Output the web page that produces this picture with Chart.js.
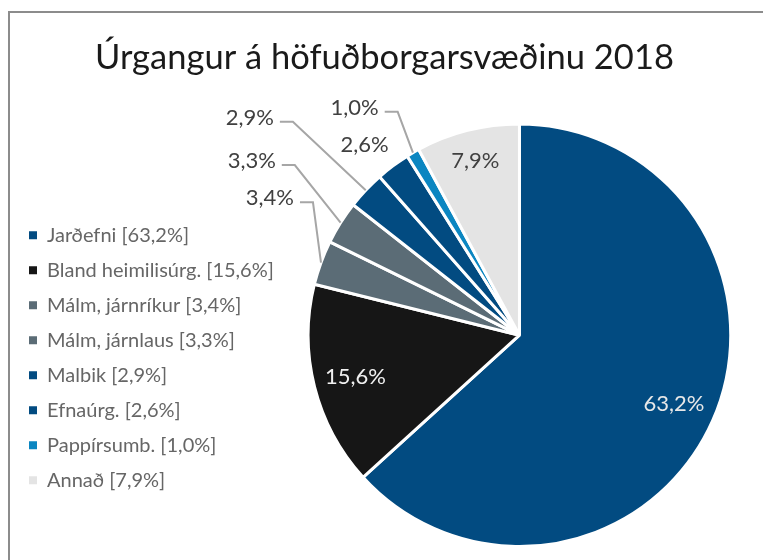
<!DOCTYPE html>
<html>
<head>
<meta charset="utf-8">
<script src="https://cdn.jsdelivr.net/npm/chart.js@4.4.1/dist/chart.umd.min.js"></script>
<style>
    body { margin: 0; background: #fff; overflow: hidden; }
    #frame {
        position: absolute; left: 8px; top: 11px; width: 800px; height: 600px;
        border-left: 2px solid #8c8c8c; border-top: 2px solid #8c8c8c;
    }
    #wrap { position: absolute; left: 9px; top: 13px; width: 766px; height: 547px; }
</style>
</head>
<body>
<div id="frame"></div>
<div id="wrap"><canvas id="myChart" width="766" height="547"></canvas></div>
<script>
// data
const categories = ['Jarðefni', 'Bland heimilisúrg.', 'Málm, járnríkur', 'Málm, járnlaus', 'Malbik', 'Efnaúrg.', 'Pappírsumb.', 'Annað']
const shares = [63.2, 15.6, 3.4, 3.3, 2.9, 2.6, 1.0, 7.9]
const sliceColors = ['#024b81', '#161616', '#5b6c76', '#5b6c76', '#024b81', '#024b81', '#0b86c1', '#e4e4e4']
const titleText = 'Úrgangur á höfuðborgarsvæðinu 2018'

const fmt = v => v.toFixed(1).replace('.', ',') + '%'
const FONT = 'Lato'

// label placement, in units of the pie radius
// r: radial factor along the slice middle; pos / leader: text centre relative to pie centre
const labelPlace = [
    { r: 0.8, color: '#e8e8e8' },
    { r: 0.8, color: '#f0f0f0' },
    { leader: [-1.181, -0.648] },
    { leader: [-1.267, -0.824] },
    { leader: [-1.276, -1.029] },
    { pos: [-0.733, -0.9], color: '#404040' },
    { leader: [-0.78, -1.076] },
    { r: 0.85, color: '#404040' },
]

const pieLabels = {
    id: 'pieLabels',
    afterDatasetsDraw(chart) {
        const { ctx } = chart
        const meta = chart.getDatasetMeta(0)
        ctx.save()
        ctx.font = `22px ${FONT}`
        ctx.textAlign = 'center'
        ctx.textBaseline = 'middle'
        meta.data.forEach((arc, i) => {
            const p = labelPlace[i]
            const { x, y, startAngle, endAngle, outerRadius } = arc.getProps(['x', 'y', 'startAngle', 'endAngle', 'outerRadius'], true)
            const mid = (startAngle + endAngle) / 2
            const text = fmt(shares[i])
            if (p.leader) {
                const tx = x + p.leader[0] * outerRadius
                const ty = y + p.leader[1] * outerRadius
                const w = ctx.measureText(text).width
                const ax = x + Math.cos(mid) * outerRadius
                const ay = y + Math.sin(mid) * outerRadius
                const lx = tx + w / 2 + 6
                const ex = lx + 13
                const ly = ty + 4
                ctx.strokeStyle = '#a6a6a6'
                ctx.lineWidth = 2
                ctx.beginPath()
                ctx.moveTo(lx, ly)
                ctx.lineTo(ex, ly)
                ctx.lineTo(ax, ay)
                ctx.stroke()
                ctx.fillStyle = '#404040'
                ctx.fillText(text, tx, ty)
            } else if (p.pos) {
                ctx.fillStyle = p.color
                ctx.fillText(text, x + p.pos[0] * outerRadius, y + p.pos[1] * outerRadius)
            } else {
                ctx.fillStyle = p.color
                ctx.fillText(text, x + Math.cos(mid) * outerRadius * p.r, y + Math.sin(mid) * outerRadius * p.r)
            }
        })
        ctx.restore()
    }
}

const ctx = document.getElementById('myChart')
const myPieChart = new Chart(ctx, {
    type: 'pie',
    data: {
        labels: categories,
        datasets: [{
            data: shares,
            backgroundColor: sliceColors,
            borderColor: '#ffffff',
            borderWidth: 3,
        }]
    },
    options: {
        responsive: false,
        animation: false,
        layout: { padding: { top: 0, right: 20, bottom: 12, left: 5 } },
        plugins: {
            title: {
                display: true,
                text: titleText,
                color: '#1a1a1a',
                font: { family: FONT, size: 34.5, weight: 'normal' },
                padding: { top: 24, bottom: 44 }
            },
            legend: {
                position: 'left',
                title: { display: true, text: '', padding: { top: 70, bottom: 70 } },
                labels: {
                    color: '#1a1a1a',
                    font: { family: FONT, size: 20 },
                    boxWidth: 8,
                    boxHeight: 8,
                    padding: 15,
                    generateLabels(chart) {
                        return categories.map((c, i) => ({
                            text: `${c} [${fmt(shares[i])}]`,
                            fillStyle: sliceColors[i],
                            strokeStyle: sliceColors[i],
                            lineWidth: 0,
                            index: i,
                        }))
                    }
                }
            },
            tooltip: { enabled: false }
        }
    },
    plugins: [pieLabels],
});
</script>
</body>
</html>
